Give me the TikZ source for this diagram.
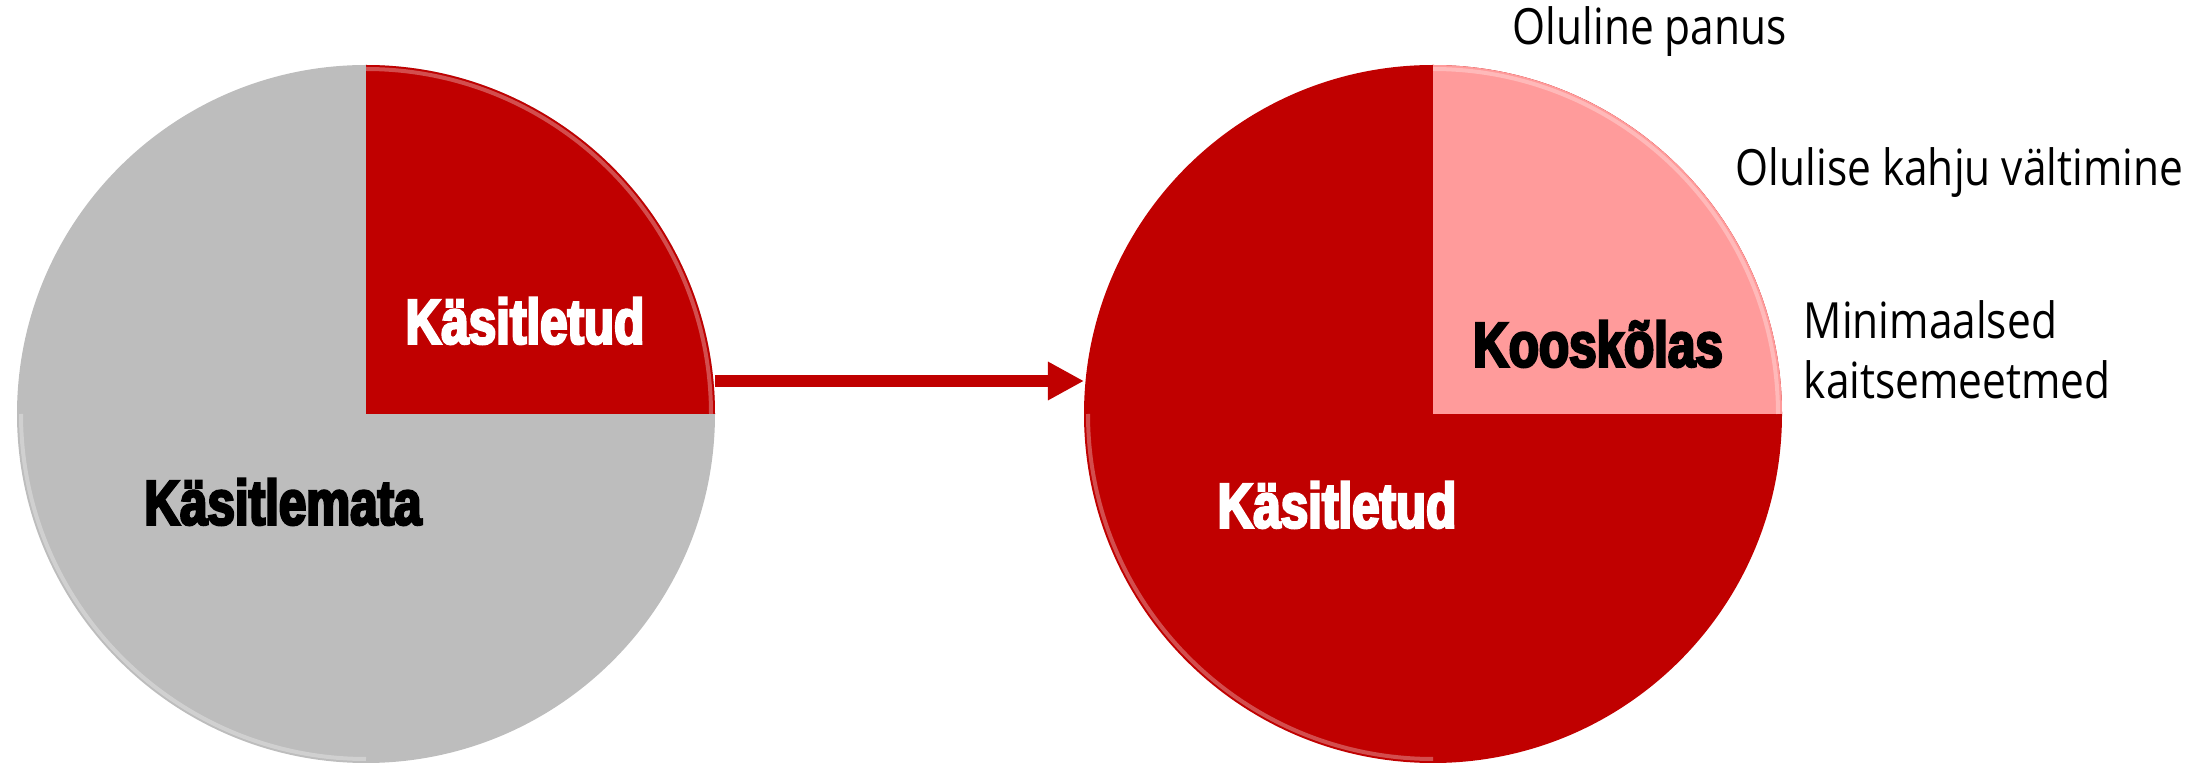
\documentclass[tikz,border=0pt]{standalone}
\usepackage{fontspec}
\usetikzlibrary{arrows.meta}
\newfontfamily\heavyfont{Liberation Sans}[FakeStretch=0.78,FakeBold=4]
\newfontfamily\lightfont{Open Sans}[FakeStretch=0.85]
\definecolor{darkred}{RGB}{192,0,0}
\definecolor{lgray}{RGB}{189,189,189}
\definecolor{pinkq}{RGB}{255,155,155}
\tikzset{
  heavylabel/.style={font=\heavyfont\bfseries\fontsize{18pt}{20pt}\selectfont, inner sep=0pt},
  lightlabel/.style={font=\lightfont\fontsize{14.2pt}{17pt}\selectfont, inner sep=0pt, text=black},
  connector/.style={draw=darkred, line width=0.12cm, -{Triangle[length=0.36cm,width=0.36cm]}},
  rim/.style={white, opacity=0.3, line width=0.04cm}
}
\begin{document}
\begin{tikzpicture}[x=0.01cm,y=-0.01cm]
\useasboundingbox (0,0) rectangle (2208,764);
% left pie
\coordinate (lc) at (366,414);
\fill[lgray] (lc) circle (349);
\fill[darkred] (lc) -- ++(0,-349) arc[start angle=-90,end angle=0,radius=349] -- cycle;
\draw[rim] ([shift={(0,-345)}]lc) arc[start angle=-90,end angle=0,radius=345];
\draw[rim] ([shift={(-345,0)}]lc) arc[start angle=180,end angle=90,radius=345];
% right pie
\coordinate (rc) at (1433,414);
\fill[darkred] (rc) circle (349);
\fill[pinkq] (rc) -- ++(0,-349) arc[start angle=-90,end angle=0,radius=349] -- cycle;
\draw[rim] ([shift={(0,-345)}]rc) arc[start angle=-90,end angle=0,radius=345];
\draw[rim] ([shift={(-345,0)}]rc) arc[start angle=180,end angle=90,radius=345];
% arrow
\coordinate (as) at (715,381);
\coordinate (ae) at (1084,381);
\draw[connector] (as) -- (ae);
% labels
\node[heavylabel, text=white] (lk) at (525,321) {Käsitletud};
\node[heavylabel, text=black] (lm) at (283,502) {Käsitlemata};
\node[heavylabel, text=black] (rk) at (1598,344) {Kooskõlas};
\node[heavylabel, text=white] (rt) at (1337,505) {Käsitletud};
\node[lightlabel, anchor=west] (op) at (1512,32) {Oluline panus};
\node[lightlabel, anchor=west] (ok) at (1735,173) {Olulise kahju vältimine};
\node[lightlabel, anchor=west, align=left] (mk) at (1803,350) {Minimaalsed\\kaitsemeetmed};
\end{tikzpicture}
\end{document}
